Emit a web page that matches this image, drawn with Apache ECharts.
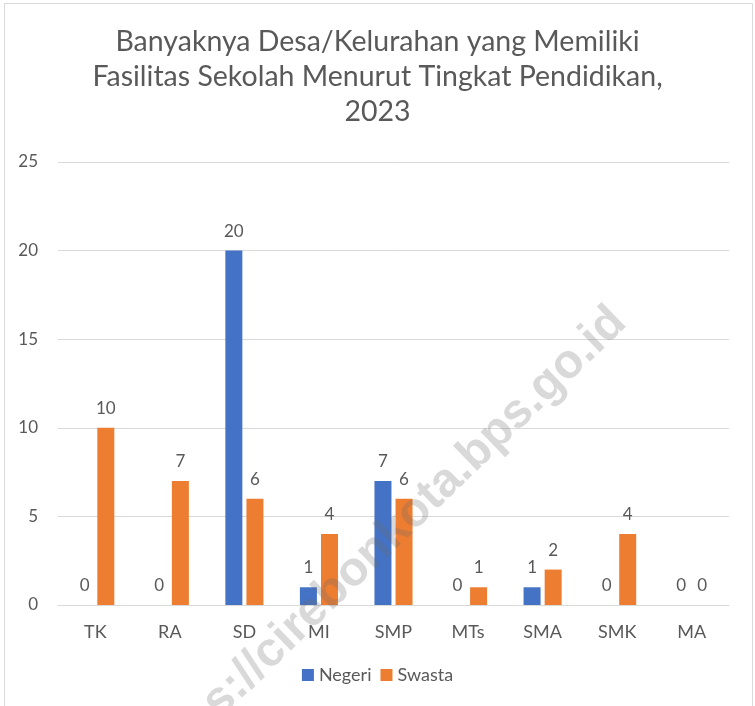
<!DOCTYPE html>
<html>
<head>
<meta charset="utf-8">
<title>Banyaknya Desa/Kelurahan</title>
<script src="https://cdn.jsdelivr.net/npm/echarts@6/dist/echarts.min.js"></script>
<style>
  html, body { margin: 0; padding: 0; background: #fff; }
  #chart { width: 755px; height: 706px; }
</style>
</head>
<body>
<div id="chart"></div>
<script>
// data
var kategori = ['TK', 'RA', 'SD', 'MI', 'SMP', 'MTs', 'SMA', 'SMK', 'MA'];
var negeri = [0, 0, 20, 1, 7, 0, 1, 0, 0];
var swasta = [10, 7, 6, 4, 6, 1, 2, 4, 0];
var namaSeri = ['Negeri', 'Swasta'];
var judul = 'Banyaknya Desa/Kelurahan yang Memiliki\nFasilitas Sekolah Menurut Tingkat Pendidikan,\n2023';
var watermark = 'https://cirebonkota.bps.go.id';

var abu = '#595959';
var fontUtama = 'Lato, "Noto Sans", sans-serif';

var chart = echarts.init(document.getElementById('chart'));

var labelNilai = {
  show: true,
  position: 'top',
  distance: 11,
  color: abu,
  fontSize: 17,
  fontFamily: fontUtama
};

var option = {
  backgroundColor: '#fff',
  animation: false,
  title: {
    text: judul,
    left: 'center',
    top: 19,
    textStyle: {
      color: abu,
      fontSize: 28.5,
      fontWeight: 'normal',
      lineHeight: 35,
      fontFamily: fontUtama
    }
  },
  legend: {
    data: namaSeri,
    top: 661,
    left: 'center',
    icon: 'rect',
    itemWidth: 12,
    itemHeight: 12,
    itemGap: 9,
    textStyle: { color: abu, fontSize: 18, fontFamily: fontUtama }
  },
  grid: { left: 58, right: 26, top: 162, bottom: 101 },
  xAxis: {
    type: 'category',
    data: kategori,
    axisLine: { lineStyle: { color: '#d9d9d9', width: 1 } },
    axisTick: { show: false },
    axisLabel: { color: abu, fontSize: 18, margin: 18, fontFamily: fontUtama }
  },
  yAxis: {
    type: 'value',
    min: 0,
    max: 25,
    interval: 5,
    axisLine: { show: false },
    axisTick: { show: false },
    axisLabel: { color: abu, fontSize: 17, margin: 20, fontFamily: fontUtama },
    splitLine: { lineStyle: { color: '#d9d9d9', width: 1 } }
  },
  series: [
    {
      name: namaSeri[0],
      type: 'bar',
      data: negeri,
      barWidth: 17,
      barGap: '24%',
      itemStyle: { color: '#4472C4' },
      label: labelNilai
    },
    {
      name: namaSeri[1],
      type: 'bar',
      data: swasta,
      barWidth: 17,
      barGap: '24%',
      itemStyle: { color: '#ED7D31' },
      label: labelNilai
    }
  ],
  graphic: [
    {
      type: 'rect',
      shape: { x: 4.5, y: 3.5, width: 748, height: 720 },
      style: { fill: 'none', stroke: '#d9d9d9', lineWidth: 1 },
      silent: true,
      z: 0
    },
    {
      type: 'text',
      x: 382,
      y: 544,
      rotation: 44 * Math.PI / 180,
      style: {
        text: watermark,
        fontSize: 48,
        fontWeight: 'bold',
        fontFamily: '"Liberation Sans", Arial, sans-serif',
        fill: 'rgba(110,110,110,0.26)',
        align: 'center',
        verticalAlign: 'middle'
      },
      silent: true,
      z: 100
    }
  ]
};

chart.setOption(option);
</script>
</body>
</html>
